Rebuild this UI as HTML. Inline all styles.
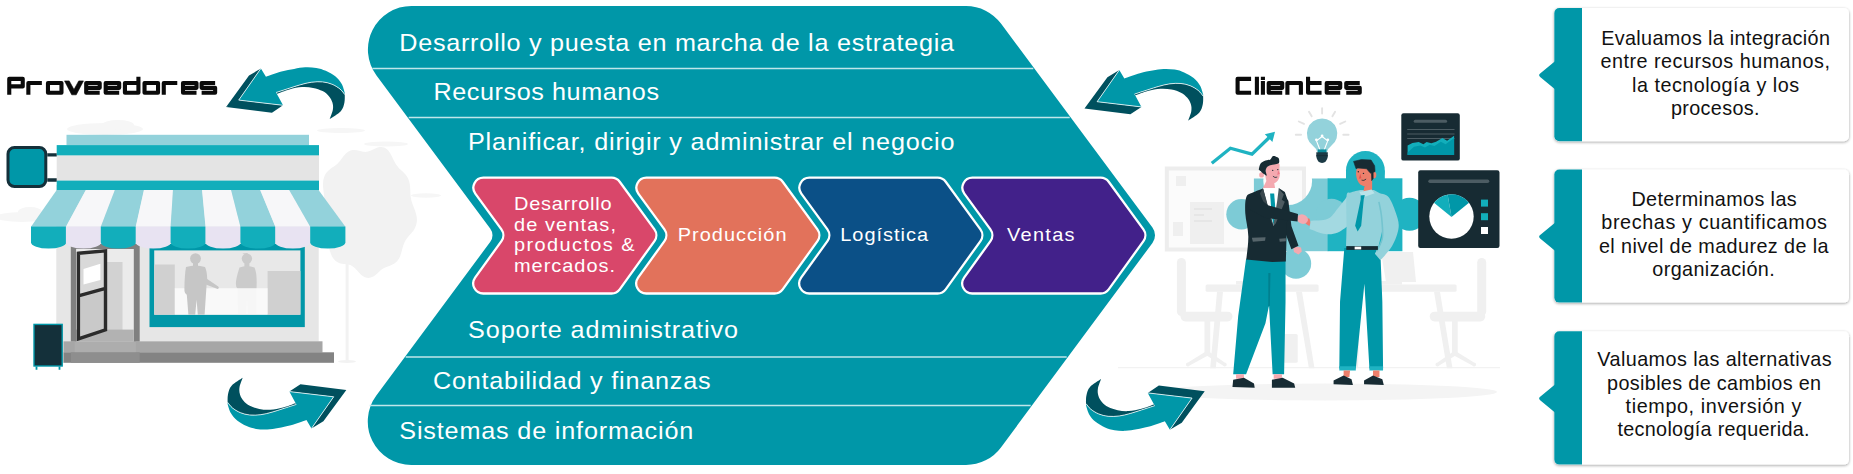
<!DOCTYPE html>
<html><head><meta charset="utf-8"><title>Cadena de valor</title>
<style>
html,body{margin:0;padding:0;background:#fff;}
body{width:1853px;height:474px;overflow:hidden;font-family:"Liberation Sans",sans-serif;}
svg{display:block;}
svg text{font-family:"Liberation Sans",sans-serif;}
</style></head><body>
<svg width="1853" height="474" viewBox="0 0 1853 474">
<!-- p05_store -->
<path d="M415.19 211C415.44 211.97 416.45 214.87 416.7 216.83C416.95 218.79 417 220.85 416.69 222.75C416.39 224.64 415.69 226.51 414.85 228.19C414.01 229.86 412.79 231.37 411.68 232.8C410.57 234.22 409.25 235.44 408.19 236.75C407.13 238.05 406.12 239.25 405.31 240.65C404.51 242.05 403.92 243.52 403.36 245.13C402.8 246.74 402.46 248.56 401.95 250.31C401.44 252.07 401 254 400.32 255.66C399.63 257.32 398.83 258.97 397.85 260.28C396.87 261.59 395.67 262.66 394.44 263.53C393.21 264.4 391.8 264.92 390.47 265.48C389.14 266.05 387.75 266.37 386.46 266.93C385.16 267.49 383.93 268.05 382.71 268.84C381.48 269.63 380.34 270.65 379.13 271.66C377.91 272.66 376.7 273.94 375.4 274.89C374.11 275.84 372.73 276.85 371.33 277.35C369.93 277.84 368.43 278.08 367 277.86C365.57 277.63 364.1 276.9 362.76 276.01C361.41 275.12 360.13 273.71 358.91 272.49C357.7 271.27 356.6 269.79 355.47 268.69C354.33 267.59 353.28 266.58 352.09 265.9C350.91 265.21 349.69 264.87 348.36 264.57C347.04 264.27 345.57 264.32 344.13 264.11C342.68 263.89 341.1 263.8 339.68 263.3C338.26 262.8 336.83 262.12 335.63 261.11C334.43 260.11 333.38 258.73 332.5 257.25C331.61 255.77 330.97 253.95 330.34 252.23C329.71 250.51 329.27 248.65 328.7 246.95C328.13 245.24 327.6 243.6 326.91 242.03C326.22 240.46 325.41 239.02 324.58 237.52C323.75 236.01 322.74 234.58 321.94 232.99C321.13 231.4 320.26 229.74 319.74 227.97C319.22 226.21 318.86 224.29 318.81 222.39C318.76 220.49 319.04 218.48 319.44 216.58C319.84 214.68 320.58 212.79 321.19 211C321.79 209.21 322.57 207.54 323.06 205.85C323.55 204.16 323.96 202.58 324.12 200.87C324.29 199.15 324.18 197.44 324.05 195.58C323.92 193.71 323.52 191.72 323.35 189.7C323.17 187.69 322.9 185.5 323 183.5C323.09 181.49 323.34 179.42 323.91 177.65C324.47 175.88 325.35 174.25 326.36 172.86C327.37 171.47 328.69 170.37 329.94 169.32C331.19 168.27 332.6 167.49 333.85 166.56C335.1 165.64 336.32 164.8 337.43 163.76C338.54 162.72 339.52 161.55 340.52 160.32C341.53 159.08 342.43 157.63 343.47 156.36C344.5 155.1 345.55 153.72 346.73 152.74C347.91 151.75 349.21 150.9 350.56 150.44C351.9 149.98 353.38 149.89 354.8 149.95C356.22 150.01 357.69 150.49 359.08 150.8C360.47 151.12 361.82 151.65 363.14 151.83C364.46 152 365.7 152.08 367 151.86C368.3 151.63 369.58 151.06 370.95 150.49C372.32 149.91 373.76 148.99 375.23 148.4C376.71 147.82 378.3 147.13 379.8 146.98C381.3 146.83 382.86 146.93 384.24 147.5C385.63 148.06 386.94 149.13 388.09 150.37C389.24 151.62 390.21 153.37 391.13 154.99C392.04 156.6 392.77 158.49 393.59 160.09C394.42 161.69 395.16 163.25 396.05 164.59C396.95 165.94 397.91 167.05 398.96 168.15C400.01 169.26 401.23 170.15 402.35 171.24C403.47 172.33 404.71 173.38 405.7 174.67C406.7 175.97 407.64 177.43 408.32 179.03C408.99 180.63 409.44 182.46 409.77 184.27C410.09 186.08 410.14 188.04 410.27 189.89C410.4 191.74 410.35 193.59 410.54 195.36C410.73 197.13 410.96 198.81 411.38 200.51C411.8 202.22 412.45 203.85 413.08 205.6C413.72 207.34 414.84 210.1 415.19 211Z" fill="#F2F2F2"/>
<g fill="#F2F2F2"><rect x="345.6" y="262" width="3" height="99"/><ellipse cx="347" cy="361.5" rx="9" ry="1.5"/></g>
<g fill="#F6F6F6"><ellipse cx="105" cy="129" rx="38" ry="6"/><ellipse cx="118" cy="125" rx="16" ry="5"/><ellipse cx="22" cy="217" rx="26" ry="5"/><ellipse cx="30" cy="212" rx="12" ry="5"/><ellipse cx="341" cy="130.500" rx="24" ry="2.500"/><ellipse cx="386" cy="144" rx="22" ry="2.500"/><ellipse cx="426" cy="195.500" rx="15" ry="2.200"/></g>
<rect x="56.3" y="185" width="262.4" height="156.4" fill="#E6E6E6"/>
<rect x="63.4" y="341.3" width="259.1" height="11.2" fill="#A6A6A6"/>
<rect x="63.4" y="352.3" width="270.6" height="10.5" fill="#838383"/>
<rect x="74.7" y="341.3" width="61.1" height="11.2" fill="#ADADAD"/>
<rect x="70.8" y="352.3" width="68.9" height="10.5" fill="#8E8E8E"/>
<rect x="70.8" y="244" width="68.9" height="97.4" fill="#808080"/>
<rect x="76.1" y="249" width="57.7" height="92.4" fill="#EBEBEB"/>
<rect x="80.6" y="262" width="41.9" height="68" fill="#D2D2D2"/>
<rect x="76.1" y="329.6" width="57.7" height="11.8" fill="#B2B2B2"/>
<path d="M78.4 253.2L105.5 250.9V329.6L78.4 338.6Z" fill="#D9D9D9"/>
<path d="M78.4 296L105.5 288.6V329.6L78.4 338.6Z" fill="#C9C9C9"/>
<path d="M83.5 269L100.4 263.7V279.9L83.5 284.6Z" fill="#fff"/>
<path d="M78.4 253.2L105.5 250.9V329.8L78.4 338.9ZM78.4 295.8L105.5 288.3" fill="none" stroke="#2B2B2B" stroke-width="3.4" stroke-linejoin="miter"/>
<rect x="149.5" y="244" width="155.3" height="83.1" fill="#0097A8"/>
<rect x="154.2" y="250.4" width="146.2" height="64.3" fill="#E8E8E8"/>
<rect x="154.2" y="264.5" width="20.6" height="50.2" fill="#D0D0D0"/>
<rect x="267.6" y="271" width="32.8" height="43.7" fill="#D0D0D0"/>
<g fill="#CBCBCB"><circle cx="246.9" cy="258.600" r="5.200"/><rect x="244.400" y="262" width="5" height="6"/><path d="M242.5 253.5l5-0.5l1 4z"/><path d="M239.5 267.5q7.5-3 15 0q2.8 6 2 21v26h-8.5l-1-16l-1 16h-8l-.5-26q-4-3 2-21z"/></g>
<rect x="174.8" y="288.2" width="92.8" height="26.5" fill="#FBFBFB" fill-opacity=".9"/>
<g fill="#C6C6C6"><circle cx="195.500" cy="258.600" r="5.400"/><rect x="193" y="262" width="5" height="6"/><path d="M186 267q9.5-3 19 0q2 4 2.2 12l11 7.5q1.6 1.6-.6 2.6l-11-4.4l-.8 12l-1.2 18h-6.8l-1.2-15l-1.4 15h-6.8l-1.6-20q-2.6-1.4-2.4-6q.2-14 1.6-21.7z"/></g>
<rect x="66.5" y="134.8" width="242.5" height="10.5" fill="#93D2DB"/>
<rect x="56.7" y="145.1" width="262.3" height="10.6" fill="#12AEBB"/>
<rect x="56.7" y="155.5" width="262.3" height="25.3" fill="#E4E4E4"/>
<rect x="56.7" y="180.6" width="262.3" height="9.6" fill="#12AEBB"/>
<path d="M47.3 154.9H56.7M47.3 180H56.7" stroke="#14303A" stroke-width="3.4"/>
<rect x="8" y="147.5" width="37.8" height="39" rx="6.5" fill="#0097A8" stroke="#14303A" stroke-width="3"/>
<path d="M56.7 190.0H86.06L66.2 226.70000000000002H31Z" fill="#93D2DB"/>
<path d="M31 226.4H66.2V242.2A17.6 6.4 0 0 1 31 242.2Z" fill="#12AEBB"/>
<path d="M85.76 190.0H115.12L101.1 226.70000000000002H65.9Z" fill="#F7F7F9"/>
<path d="M65.9 226.4H101.1V242.2A17.6 6.4 0 0 1 65.9 242.2Z" fill="#E8E3F2"/>
<path d="M114.82 190.0H144.18L136 226.70000000000002H100.8Z" fill="#93D2DB"/>
<path d="M100.8 226.4H136V242.2A17.6 6.4 0 0 1 100.8 242.2Z" fill="#12AEBB"/>
<path d="M143.88 190.0H173.24L170.9 226.70000000000002H135.7Z" fill="#F7F7F9"/>
<path d="M135.7 226.4H170.9V242.2A17.6 6.4 0 0 1 135.7 242.2Z" fill="#E8E3F2"/>
<path d="M172.94 190.0H202.3L205.8 226.70000000000002H170.6Z" fill="#93D2DB"/>
<path d="M170.6 226.4H205.8V242.2A17.6 6.4 0 0 1 170.6 242.2Z" fill="#12AEBB"/>
<path d="M202 190.0H231.36L240.7 226.70000000000002H205.5Z" fill="#F7F7F9"/>
<path d="M205.5 226.4H240.7V242.2A17.6 6.4 0 0 1 205.5 242.2Z" fill="#E8E3F2"/>
<path d="M231.06 190.0H260.42L275.6 226.70000000000002H240.4Z" fill="#93D2DB"/>
<path d="M240.4 226.4H275.6V242.2A17.6 6.4 0 0 1 240.4 242.2Z" fill="#12AEBB"/>
<path d="M260.12 190.0H289.48L310.5 226.70000000000002H275.3Z" fill="#F7F7F9"/>
<path d="M275.3 226.4H310.5V242.2A17.6 6.4 0 0 1 275.3 242.2Z" fill="#E8E3F2"/>
<path d="M289.18 190.0H318.54L345.4 226.70000000000002H310.2Z" fill="#93D2DB"/>
<path d="M310.2 226.4H345.4V242.2A17.6 6.4 0 0 1 310.2 242.2Z" fill="#12AEBB"/>
<rect x="34" y="324.4" width="28.2" height="41.6" fill="#14303A" stroke="#0097A8" stroke-width="1.4"/>
<path d="M36.5 366.5v3.2M59.5 366.5v3.2" stroke="#0097A8" stroke-width="1.8"/>
<!-- p06_people -->
<ellipse cx="1325" cy="392" rx="172" ry="8.5" fill="#F4F4F4"/>
<path d="M1118 367.6H1500" stroke="#F2F2F2" stroke-width="1.2"/>
<rect x="1166.8" y="168.5" width="137.2" height="81" fill="#FBFBFB" stroke="#EDEDED" stroke-width="4"/>
<g fill="#EFEFEF"><rect x="1176" y="176" width="10" height="10"/><rect x="1173" y="222" width="10" height="14"/><rect x="1190" y="202" width="34" height="42"/></g>
<g stroke="#E6E6E6" stroke-width="2.2"><path d="M1194 209h18M1194 215h10M1194 221h18"/></g>
<g fill="#F0F0F0"><rect x="1205.6" y="284.5" width="113" height="7.2" rx="1.5"/><path d="M1217 291.7h6l-7.2 76.6h-5.6zM1296 291.7h6l12.5 76.6h-5.6z"/><rect x="1379.5" y="284.5" width="77.1" height="7.2" rx="1.5"/><path d="M1434 291.7h6l12.5 76.6h-5.6zM1356 291.7h5l-3 76.6h-5z"/><rect x="1283.4" y="334" width="14.3" height="28.7" rx="1.5"/><path d="M1381 252h32l3 30h-30z"/><rect x="1376" y="281" width="26" height="3.5"/><rect x="1236" y="281" width="22" height="3.5"/><rect x="1176.9" y="258" width="9" height="58" rx="4.5"/><rect x="1180.5" y="311.7" width="52" height="9.7" rx="4.8"/><rect x="1204.5" y="321" width="5.7" height="35"/><path d="M1205 352l-17 10.5a2 2 0 1 0 1.6 3l17.5-9.5zM1209.6 352l15 10.5a2 2 0 1 1 -1.6 3l-15.6-9.5z"/><rect x="1477.2" y="258" width="9" height="58" rx="4.5"/><rect x="1429.7" y="311.7" width="55.5" height="9.7" rx="4.8"/><rect x="1452" y="321" width="5.7" height="35"/><path d="M1452.6 352l-15 10.5a2 2 0 1 0 1.6 3l15.6-9.5zM1457 352l17 10.5a2 2 0 1 1 -1.6 3l-17.5-9.5z"/></g>
<mask id="sk" maskUnits="userSpaceOnUse" x="1200" y="150" width="150" height="140"><rect x="1200" y="150" width="150" height="140" fill="#fff"/><circle cx="1287.7" cy="180.7" r="24.4" fill="#000"/></mask>
<g fill="#7DCBD6" mask="url(#sk)"><rect x="1253.9" y="178.5" width="74.5" height="72.7"/><circle cx="1241.5" cy="214.3" r="15.2"/><rect x="1248" y="206" width="8" height="16.5"/><circle cx="1296" cy="263.5" r="15.2"/><rect x="1288" y="249" width="16" height="6"/></g>
<g fill="#1FB3C2"><rect x="1327.6" y="178.3" width="74.8" height="72.9"/><circle cx="1365.400" cy="170.500" r="19.400"/><rect x="1346" y="170.500" width="38.800" height="8.500"/><circle cx="1409.5" cy="214.3" r="16.5"/><rect x="1400" y="205" width="6" height="18"/></g>
<circle cx="1331.5" cy="214.3" r="15.6" fill="#7DCBD6"/>
<path d="M1211.8 163.2L1230.4 148.2L1252 154.1L1269.5 137.2" fill="none" stroke="#1FB3C2" stroke-width="3.3" stroke-linejoin="miter"/>
<path d="M1275 131.800l-10.200 2.400l7.600 7.800z" fill="#1FB3C2"/>
<g stroke="#E3E3E3" stroke-width="1.9" stroke-linecap="round"><path d="M1322.100 108.300v5.200M1309 111.700l2.700 4.600M1335.100 111.700l-2.700 4.600M1298.800 121.500l5.200 2.400M1345.300 121.500l-5.200 2.400M1295.800 134.700h5.300M1348.600 134.700h-5.300"/></g>
<path d="M1322.100 118.500a15.200 15.200 0 0 1 9.200 27.300q-3.600 2.800-4.300 6.200h-9.800q-.700-3.400-4.300-6.200a15.200 15.200 0 0 1 9.200-27.300z" fill="#93D2DB"/>
<path d="M1320.200 150.500l-3.700-9.600l5.600-4.400l5.600 4.400l-3.700 9.600" fill="none" stroke="#fff" stroke-width="1.100" stroke-linejoin="round" stroke-linecap="round"/><g fill="#fff"><circle cx="1316.400" cy="139.800" r="1.400"/><circle cx="1327.800" cy="139.800" r="1.400"/><circle cx="1322.100" cy="136" r="1.400"/></g>
<path d="M1317.800 149.400h8.600v3.600h-8.600z" fill="#0B8C9C"/><path d="M1316.300 152.200h11.500v4.600q-1.200 6.200-5.750 6.200t-5.750-6.200z" fill="#1B3A45"/><path d="M1316.300 155.600h11.500" stroke="#172B33" stroke-width=".8"/>
<rect x="1401.3" y="113.3" width="58.5" height="47.3" rx="2.2" fill="#172B33"/>
<path d="M1415.2 121.3H1445.6" stroke="#4C5C63" stroke-width="3" stroke-linecap="round"/>
<path d="M1407.2 129.5h47.3M1407.2 134h47.3M1407.2 138.5h47.3" stroke="#4C5C63" stroke-width="1"/>
<path d="M1407.6 154.9L1407.6 145.5L1412.4 142.9L1418.7 142.0L1423.4 144.2L1426.6 142.0L1431.3 143.2L1436.1 141.7L1442.4 137.9L1447.1 140.7L1454.1 135.7L1454.1 154.9Z" fill="#12AEBB"/>
<path d="M1407.6 154.9L1407.6 152.4L1414.0 146.7L1420.3 145.5L1425.0 147.4L1429.8 144.8L1434.5 146.1L1440.8 141.7L1445.6 144.2L1454.1 137.9L1454.1 154.9Z" fill="#0097A8"/>
<rect x="1418.2" y="170.3" width="81.3" height="77.6" rx="2.2" fill="#172B33"/>
<path d="M1430 181.3H1487.6" stroke="#4C5C63" stroke-width="3.4" stroke-linecap="round"/>
<circle cx="1451.5" cy="216.5" r="22.2" fill="#fff"/>
<path d="M1451.5 217L1434.01 202.83A22.2 22.2 0 0 1 1447.65 194.64Z" fill="#12AEBB"/>
<path d="M1451.5 217L1447.65 194.64A22.2 22.2 0 0 1 1468.99 202.83Z" fill="#0097A8"/>
<rect x="1481" y="199.6" width="7" height="7" fill="#12AEBB"/><rect x="1481" y="213.2" width="7" height="7" fill="#12AEBB"/><rect x="1481" y="227" width="7" height="7" fill="#fff"/>
<path d="M1246.09 258.68L1285.53 258.68L1285.53 301.71L1284.1 374.14L1272.62 374.14L1269.04 305.3L1265.45 323.22L1246.09 374.14L1233.18 374.14L1238.2 316.05Z" fill="#0097A8"/>
<path d="M1268.32 273.03L1270.47 273.03L1269.76 305.3L1268.32 307.09Z" fill="#00808F"/>
<path d="M1236.05 374.14L1243.94 374.14L1243.94 378.8L1236.05 378.8ZM1273.7 374.14L1281.95 374.14L1281.95 378.8L1273.7 378.8Z" fill="#F4A9B0"/>
<path d="M1233.18 379.87L1243.94 377.72L1253.98 383.46L1254.7 387.76L1232.47 387.05ZM1271.91 379.87L1282.66 377.72L1294.14 383.46L1295.21 387.76L1271.91 387.76Z" fill="#172B33"/>
<path d="M1292.93 245.82L1301.05 247.59L1301.81 251.39L1298.51 254.44L1293.95 251.9Z" fill="#F4A9B0"/>
<path d="M1283.81 195.63L1288.37 200.7L1291.41 226.05L1298.51 245.82L1291.41 249.37L1284.57 231.12Z" fill="#172B33"/>
<path d="M1266.62 180.58L1274 181.64L1275.58 191.13L1261.87 190.07Z" fill="#F4A9B0"/>
<path d="M1266.09 166.87C1266.97 166.52 1269.22 165.33 1271.36 164.76C1273.51 164.2 1277.62 162.79 1278.96 163.5C1280.29 164.2 1279.22 167.33 1279.38 168.98C1279.54 170.63 1279.92 171.97 1279.9 173.41C1279.89 174.85 1279.82 176.22 1279.27 177.63C1278.73 179.03 1277.74 180.79 1276.64 181.85C1275.53 182.9 1273.82 183.67 1272.63 183.96C1271.43 184.24 1270.45 183.96 1269.46 183.53C1268.48 183.11 1267.39 182.62 1266.72 181.42C1266.06 180.23 1265.63 178.09 1265.46 176.36C1265.28 174.64 1265.56 172.67 1265.67 171.09C1265.77 169.51 1266.02 167.58 1266.09 166.87Z" fill="#F4A9B0"/>
<ellipse cx="1261.56" cy="174.89" rx="2.400" ry="2.700" fill="#F4A9B0"/>
<path d="M1278.11 170.25L1279.8 173.83L1277.27 174.89Z" fill="#F07A8A"/>
<path d="M1258.71 169.61C1259.03 168.59 1259.46 165.01 1260.61 163.5C1261.75 161.99 1263.95 161.21 1265.56 160.55C1267.18 159.88 1269.06 160.23 1270.31 159.49C1271.56 158.75 1272 156.54 1273.05 156.12C1274.1 155.69 1275.67 156.57 1276.64 156.96C1277.6 157.35 1278.45 157.49 1278.85 158.44C1279.25 159.39 1279.43 161.74 1279.06 162.65C1278.69 163.57 1277.92 163.53 1276.64 163.92C1275.35 164.31 1272.91 164.48 1271.36 164.97C1269.82 165.47 1268.3 165.92 1267.36 166.87C1266.41 167.82 1265.77 169.23 1265.67 170.67C1265.56 172.11 1266.93 174.92 1266.72 175.52C1266.51 176.12 1265.25 174.82 1264.4 174.25C1263.56 173.69 1262.61 172.92 1261.66 172.14C1260.71 171.37 1259.2 170.04 1258.71 169.61Z" fill="#172B33"/>
<circle cx="1272.73" cy="170.35" r=".700" fill="#172B33"/><circle cx="1277.8" cy="169.61" r=".700" fill="#172B33"/>
<path d="M1273.26 176.36C1273.54 176.54 1274.35 177.29 1274.95 177.42C1275.55 177.54 1276.53 177.15 1276.85 177.1" fill="none" stroke="#172B33" stroke-width=".8" stroke-linecap="round"/>
<path d="M1263.02 188.53C1261.33 189.21 1255.67 191.15 1252.88 192.59C1250.1 194.02 1247.56 193.68 1246.29 197.15C1245.03 200.61 1244.94 206.87 1245.28 213.37C1245.62 219.88 1248.15 228.5 1248.32 236.19C1248.49 243.87 1246.63 255.62 1246.29 259.51L1272.15 262.04L1285.84 261.53L1286.85 226.05L1287.86 200.7L1284.82 192.08L1278.74 188.02Z" fill="#172B33"/>
<path d="M1263.02 188.02L1278.74 188.02L1280.26 198.16L1273.67 226.05L1268.09 208.3Z" fill="#fff"/>
<path d="M1270.12 193.6L1274.18 193.6L1275.7 213.37L1273.42 225.54L1271.39 213.37Z" fill="#0097A8"/>
<path d="M1278.74 188.53L1283.81 194.61L1281.78 199.68L1284.82 201.71L1275.7 223.51L1273.16 226.05L1277.22 200.7Z" fill="#4D5B61"/>
<path d="M1263.02 188.53L1259.98 193.6L1273.16 226.05L1266.57 200.7Z" fill="#3A484E"/>
<path d="M1251.87 237.71L1265.56 237.2L1265.05 240.75L1252.88 241.76ZM1279.25 238.72L1285.84 238.21L1285.84 241.25L1279.75 241.76Z" fill="#56656B"/>
<path d="M1305.300 217.500l4.200 1.200l1.200 4.200l-1.400 3.200l-3.600-2.400z" fill="#F0796D"/>
<ellipse cx="1302.500" cy="219.100" rx="5.600" ry="4.700" transform="rotate(18 1302.500 219.100)" fill="#F4A9B0"/>
<path d="M1246.29 198.16L1252.88 193.6L1268.09 205.26L1298 213.88L1297.5 221.48L1265.56 217.93L1248.32 208.81Z" fill="#172B33"/>
<path d="M1344.33 247.93L1380.19 247.93L1382.34 301.71L1383.06 368.4L1369.43 368.4L1364.41 283.78L1355.81 368.4L1339.32 368.4L1340.03 301.71Z" fill="#0097A8"/>
<path d="M1339.32 366.25L1355.81 366.25L1355.81 370.55L1339.32 370.55ZM1369.43 366.25L1383.06 366.25L1383.06 370.55L1369.43 370.55Z" fill="#1FB3C2"/>
<path d="M1343.62 370.55L1350.07 370.55L1349.35 377.01L1343.62 377.01ZM1373.02 370.55L1379.47 370.55L1379.47 377.01L1373.02 377.01Z" fill="#EC7F6B"/>
<path d="M1333.58 380.59L1343.62 375.57L1351.51 379.16L1352.94 384.89L1333.58 384.18ZM1364.06 380.59L1373.02 375.57L1382.34 379.16L1383.78 384.89L1364.06 384.18Z" fill="#172B33"/>
<path d="M1349.57 193.5C1347.63 195.95 1341.56 203.95 1337.94 208.17C1334.31 212.38 1332.37 216.68 1327.82 218.79C1323.27 220.9 1313.49 220.48 1310.62 220.81L1309.61 228.91C1312.22 229.75 1320.57 233.38 1325.29 233.97C1330.01 234.56 1333.89 233.97 1337.94 232.45C1341.98 230.93 1347.63 226.13 1349.57 224.86Z" fill="#A3D9E1"/>
<path d="M1360.19 189.96C1358.59 190.38 1352.86 191.48 1350.58 192.49C1348.31 193.5 1347.21 190.47 1346.54 196.03C1345.86 201.59 1346.62 217.44 1346.54 225.87C1346.45 234.3 1346.11 243.15 1346.03 246.61L1378.4 246.61L1383.46 225.87L1388.52 198.05L1373.85 189.96Z" fill="#93D2DB"/>
<path d="M1380.42 193.5C1381.77 194.09 1385.99 193.92 1388.52 197.04C1391.05 200.16 1393.91 207.16 1395.6 212.22C1397.29 217.27 1399.22 221.74 1398.63 227.39C1398.04 233.04 1395.09 240.63 1392.06 246.11C1389.02 251.58 1382.36 257.91 1380.42 260.27L1374.86 253.69C1376.13 251.16 1381.35 244.84 1382.45 238.52C1383.54 232.2 1382.11 222.08 1381.44 215.76C1380.76 209.43 1378.91 203.11 1378.4 200.58Z" fill="#93D2DB"/>
<path d="M1378.91 201.85C1379.33 204.16 1380.85 209.85 1381.44 215.76C1382.03 221.66 1383.21 231.35 1382.45 237.25C1381.69 243.15 1377.81 248.85 1376.88 251.16" fill="none" stroke="#74C4CF" stroke-width="1.6"/>
<path d="M1346.28 246.11L1377.9 246.11L1377.9 249.9L1346.28 249.9Z" fill="#172B33"/>
<path d="M1354.63 246.61L1361.2 246.61L1361.2 249.39L1354.63 249.39Z" fill="#fff"/>
<path d="M1365.05 183.74L1372.12 180.58L1372.12 191.34L1363.26 192.18Z" fill="#EC7F6B"/>
<path d="M1356.72 168.56C1356.62 169.54 1355.95 172.46 1356.09 174.46C1356.23 176.47 1356.86 178.93 1357.57 180.58C1358.27 182.23 1359.15 183.48 1360.31 184.38C1361.47 185.27 1363.12 185.89 1364.53 185.96C1365.93 186.03 1367.51 185.66 1368.74 184.8C1369.97 183.94 1371.31 182.81 1371.91 180.79C1372.51 178.77 1372.68 174.29 1372.33 172.67C1371.98 171.06 1370.75 171.78 1369.8 171.09C1368.85 170.4 1368.04 169.09 1366.64 168.56C1365.23 168.03 1363.02 167.93 1361.36 167.93C1359.71 167.93 1357.5 168.45 1356.72 168.56Z" fill="#EC7F6B"/>
<ellipse cx="1374.02" cy="175.1" rx="2.300" ry="3.300" fill="#EC7F6B"/>
<path d="M1360.31 173.83L1361.36 178.26L1358.83 178.68Z" fill="#E4524D"/>
<path d="M1353.56 161.39L1361.36 159.6L1371.06 160.02L1374.65 165.82L1375.07 171.51L1373.17 172.57L1373.17 178.68L1371.7 180.58L1371.49 173.83L1369.8 172.57L1366.64 168.77L1357.78 167.93L1356.09 168.77Z" fill="#172B33" stroke="#172B33" stroke-width=".6" stroke-linejoin="round"/>
<circle cx="1358.3" cy="171.72" r=".700" fill="#172B33"/><circle cx="1363.47" cy="173.41" r=".700" fill="#172B33"/>
<path d="M1362 180.16C1362.31 180.19 1363.26 180.53 1363.89 180.37C1364.53 180.21 1365.48 179.4 1365.79 179.21" fill="none" stroke="#172B33" stroke-width=".8" stroke-linecap="round"/>
<path d="M1359.25 191.76L1363.26 191.34L1365.58 196.4L1361.36 195.56ZM1363.26 191.34L1371.49 189.44L1374.65 193.24L1365.58 196.4Z" fill="#B9E3E9"/>
<path d="M1360.7 195.52L1364.74 195.02L1363.73 199.57L1361.2 225.87L1357.66 231.44L1355.13 225.87L1360.7 199.57Z" fill="#0097A8"/>
<!-- p10_center -->
<path d="M376.50 75.44A43.50 43.50 0 0 1 411.42 6.00L966.03 6.00A43.50 43.50 0 0 1 1000.95 23.56L1152.45 227.46A13.00 13.00 0 0 1 1152.46 242.95L1000.95 447.40A43.50 43.50 0 0 1 966.00 465.00L411.28 465.00A43.50 43.50 0 0 1 376.33 395.60L490.34 241.76A11.00 11.00 0 0 0 490.33 228.65Z" fill="#0097A8"/>
<line x1="372.3" y1="68.5" x2="1033.3" y2="68.5" stroke="#BFE6EA" stroke-width="1.4"/>
<line x1="408.7" y1="117.5" x2="1069.7" y2="117.5" stroke="#BFE6EA" stroke-width="1.4"/>
<line x1="405.7" y1="357.0" x2="1066.7" y2="357.0" stroke="#BFE6EA" stroke-width="1.4"/>
<line x1="369.7" y1="405.5" x2="1030.7" y2="405.5" stroke="#BFE6EA" stroke-width="1.4"/>
<text transform="translate(399.3 50.5) scale(1.05 1)" font-size="24" fill="#fff" textLength="528.3" lengthAdjust="spacing">Desarrollo y puesta en marcha de la estrategia</text>
<text transform="translate(433.5 100.0) scale(1.05 1)" font-size="24" fill="#fff" textLength="214.8" lengthAdjust="spacing">Recursos humanos</text>
<text transform="translate(468.0 149.7) scale(1.05 1)" font-size="24" fill="#fff" textLength="463.3" lengthAdjust="spacing">Planificar, dirigir y administrar el negocio</text>
<text transform="translate(468.0 338.4) scale(1.05 1)" font-size="24" fill="#fff" textLength="257.1" lengthAdjust="spacing">Soporte administrativo</text>
<text transform="translate(433.0 389.1) scale(1.05 1)" font-size="24" fill="#fff" textLength="264.3" lengthAdjust="spacing">Contabilidad y finanzas</text>
<text transform="translate(399.3 439.0) scale(1.05 1)" font-size="24" fill="#fff" textLength="280.0" lengthAdjust="spacing">Sistemas de información</text>
<path d="M475.31 193.60A10.00 10.00 0 0 1 483.39 177.70L611.62 177.70A10.00 10.00 0 0 1 619.70 181.80L654.42 229.34A10.00 10.00 0 0 1 654.46 241.09L619.69 289.35A10.00 10.00 0 0 1 611.58 293.50L483.23 293.50A10.00 10.00 0 0 1 475.12 277.65L501.46 241.09A10.00 10.00 0 0 0 501.42 229.34Z" fill="#D9476A" stroke="#fff" stroke-width="2.3"/>
<path d="M638.31 193.60A10.00 10.00 0 0 1 646.39 177.70L774.62 177.70A10.00 10.00 0 0 1 782.70 181.80L817.42 229.34A10.00 10.00 0 0 1 817.46 241.09L782.69 289.35A10.00 10.00 0 0 1 774.58 293.50L646.23 293.50A10.00 10.00 0 0 1 638.12 277.65L664.46 241.09A10.00 10.00 0 0 0 664.42 229.34Z" fill="#E2725B" stroke="#fff" stroke-width="2.3"/>
<path d="M801.31 193.60A10.00 10.00 0 0 1 809.39 177.70L937.62 177.70A10.00 10.00 0 0 1 945.70 181.80L980.42 229.34A10.00 10.00 0 0 1 980.46 241.09L945.69 289.35A10.00 10.00 0 0 1 937.58 293.50L809.23 293.50A10.00 10.00 0 0 1 801.12 277.65L827.46 241.09A10.00 10.00 0 0 0 827.42 229.34Z" fill="#0B5087" stroke="#fff" stroke-width="2.3"/>
<path d="M964.31 193.60A10.00 10.00 0 0 1 972.39 177.70L1100.62 177.70A10.00 10.00 0 0 1 1108.70 181.80L1143.42 229.34A10.00 10.00 0 0 1 1143.46 241.09L1108.69 289.35A10.00 10.00 0 0 1 1100.58 293.50L972.23 293.50A10.00 10.00 0 0 1 964.12 277.65L990.46 241.09A10.00 10.00 0 0 0 990.42 229.34Z" fill="#42218A" stroke="#fff" stroke-width="2.3"/>
<text transform="translate(514.0 209.9) scale(1.05 1)" font-size="19" fill="#fff" textLength="92.9" lengthAdjust="spacing">Desarrollo</text>
<text transform="translate(514.0 230.6) scale(1.05 1)" font-size="19" fill="#fff" textLength="97.1" lengthAdjust="spacing">de ventas,</text>
<text transform="translate(514.0 251.3) scale(1.05 1)" font-size="19" fill="#fff" textLength="114.8" lengthAdjust="spacing">productos &amp;</text>
<text transform="translate(514.0 272.0) scale(1.05 1)" font-size="19" fill="#fff" textLength="96.2" lengthAdjust="spacing">mercados.</text>
<text transform="translate(677.8 240.5) scale(1.05 1)" font-size="19" fill="#fff" textLength="103.5" lengthAdjust="spacing">Producción</text>
<text transform="translate(840.3 240.5) scale(1.05 1)" font-size="19" fill="#fff" textLength="83.5" lengthAdjust="spacing">Logística</text>
<text transform="translate(1007.0 240.5) scale(1.05 1)" font-size="19" fill="#fff" textLength="64.3" lengthAdjust="spacing">Ventas</text>
<!-- p20_headings -->
<path d="M64.54 80.9L69.24 80.9L73.99 89.6L78.74 80.9L83.44 80.9L76.24 94.8L71.74 94.8Z" fill="#0a0a0a" stroke="#0a0a0a" stroke-width=".6" stroke-linejoin="round"/><path d="M9.25 94.8L9.25 78.85L22.75 78.85L22.75 86.4L9.25 86.4M28.36 94.8L28.36 82.95L41.86 82.95M47.97 82.95L61.47 82.95L61.47 92.75L47.97 92.75ZM99.7 92.75L86.2 92.75L86.2 82.95L99.7 82.95L99.7 87.85L86.2 87.85M119.19 92.75L105.69 92.75L105.69 82.95L119.19 82.95L119.19 87.85L105.69 87.85M138.42 76.8L138.42 92.75L124.92 92.75L124.92 82.95L138.42 82.95M144.53 82.95L158.03 82.95L158.03 92.75L144.53 92.75ZM163.77 94.8L163.77 82.95L177.27 82.95M196.51 92.75L183.01 92.75L183.01 82.95L196.51 82.95L196.51 87.85L183.01 87.85M215.13 82.95L201.63 82.95L201.63 87.85L215.13 87.85L215.13 92.75L201.63 92.75" fill="none" stroke="#0a0a0a" stroke-width="4.1" stroke-linejoin="round" stroke-linecap="butt"/>
<path d="M1251.1 78.85L1237.6 78.85L1237.6 92.75L1251.1 92.75M1256.9 76.8L1256.9 94.8M1262.91 76.8L1262.91 80M1262.91 80.9L1262.91 94.8M1282.22 92.75L1268.72 92.75L1268.72 82.95L1282.22 82.95L1282.22 87.85L1268.72 87.85M1287.39 94.8L1287.39 82.95L1300.89 82.95L1300.89 94.8M1308.06 76.8L1308.06 92.75L1321.56 92.75M1308.06 82.95L1321.56 82.95M1340.23 92.75L1326.73 92.75L1326.73 82.95L1340.23 82.95L1340.23 87.85L1326.73 87.85M1359.75 82.95L1346.25 82.95L1346.25 87.85L1359.75 87.85L1359.75 92.75L1346.25 92.75" fill="none" stroke="#0a0a0a" stroke-width="4.1" stroke-linejoin="round" stroke-linecap="butt"/>
<!-- p30_arrows -->
<g transform="translate(0 0)"><path d="M260.89 68.45L249.02 75.57L226.08 106.9L238.73 100.09ZM238.73 100.09L226.08 106.9L271.96 112.75L283.04 105.32Z" fill="#00505E"/><path d="M276.08 92.5C278.29 91.79 285.31 89.52 289.37 88.23C293.43 86.94 296.75 85.75 300.44 84.75C304.14 83.74 307.83 82.69 311.52 82.22C315.21 81.74 319.17 81.56 322.59 81.9C326.02 82.24 329.19 83.09 332.09 84.27C334.99 85.46 337.89 87.3 340 89.02C342.11 90.73 343.96 93.63 344.75 94.56L344.75 92.66C344.69 94.29 345.09 99.38 344.43 102.47C343.77 105.55 343.24 108.4 340.79 111.17C338.34 113.94 331.56 117.76 329.72 119.08L329.72 119.08C330.24 117.5 332.43 112.36 332.88 109.59C333.33 106.82 333.06 104.71 332.41 102.47C331.75 100.23 330.56 98.04 328.92 96.14C327.29 94.24 325.23 92.45 322.59 91.08C319.96 89.7 316.53 88.57 313.1 87.91C309.67 87.25 305.98 86.86 302.03 87.12C298.07 87.38 293.53 88.39 289.37 89.49C285.2 90.6 279.08 93.05 277.03 93.77Z" fill="#00505E"/><path d="M260.89 68.45L238.73 100.09L283.04 105.32L276.08 92.5L276.08 92.5C278.29 91.79 285.31 89.52 289.37 88.23C293.43 86.94 296.75 85.75 300.44 84.75C304.14 83.74 307.83 82.69 311.52 82.22C315.21 81.74 319.17 81.56 322.59 81.9C326.02 82.24 329.19 83.09 332.09 84.27C334.99 85.46 337.89 87.3 340 89.02C342.11 90.73 343.96 93.63 344.75 94.56L344.75 92.66C344.22 91.18 343.16 86.51 341.58 83.8C340 81.08 337.89 78.52 335.25 76.36C332.62 74.2 328.92 72.22 325.76 70.82C322.59 69.43 319.69 68.55 316.27 67.97C312.84 67.39 308.88 67.18 305.19 67.34C301.5 67.5 298.07 68.21 294.11 68.92C290.16 69.64 286.15 70.3 281.46 71.61C276.76 72.93 268.53 75.97 265.95 76.84Z" fill="#0097A8"/><path d="M276.08 92.5C278.29 91.79 285.31 89.52 289.37 88.23C293.43 86.94 296.75 85.75 300.44 84.75C304.14 83.74 307.83 82.69 311.52 82.22C315.21 81.74 319.17 81.56 322.59 81.9C326.02 82.24 329.19 83.09 332.09 84.27C334.99 85.46 337.89 87.3 340 89.02C342.11 90.73 343.96 93.63 344.75 94.56" fill="none" stroke="#fff" stroke-opacity=".85" stroke-width=".9"/><path d="M260.89 68.45L238.73 100.09L283.04 105.32" fill="none" stroke="#fff" stroke-opacity=".85" stroke-width=".9"/></g>
<g transform="rotate(180 286.2 248.45)"><path d="M260.89 68.45L249.02 75.57L226.08 106.9L238.73 100.09ZM238.73 100.09L226.08 106.9L271.96 112.75L283.04 105.32Z" fill="#00505E"/><path d="M276.08 92.5C278.29 91.79 285.31 89.52 289.37 88.23C293.43 86.94 296.75 85.75 300.44 84.75C304.14 83.74 307.83 82.69 311.52 82.22C315.21 81.74 319.17 81.56 322.59 81.9C326.02 82.24 329.19 83.09 332.09 84.27C334.99 85.46 337.89 87.3 340 89.02C342.11 90.73 343.96 93.63 344.75 94.56L344.75 92.66C344.69 94.29 345.09 99.38 344.43 102.47C343.77 105.55 343.24 108.4 340.79 111.17C338.34 113.94 331.56 117.76 329.72 119.08L329.72 119.08C330.24 117.5 332.43 112.36 332.88 109.59C333.33 106.82 333.06 104.71 332.41 102.47C331.75 100.23 330.56 98.04 328.92 96.14C327.29 94.24 325.23 92.45 322.59 91.08C319.96 89.7 316.53 88.57 313.1 87.91C309.67 87.25 305.98 86.86 302.03 87.12C298.07 87.38 293.53 88.39 289.37 89.49C285.2 90.6 279.08 93.05 277.03 93.77Z" fill="#00505E"/><path d="M260.89 68.45L238.73 100.09L283.04 105.32L276.08 92.5L276.08 92.5C278.29 91.79 285.31 89.52 289.37 88.23C293.43 86.94 296.75 85.75 300.44 84.75C304.14 83.74 307.83 82.69 311.52 82.22C315.21 81.74 319.17 81.56 322.59 81.9C326.02 82.24 329.19 83.09 332.09 84.27C334.99 85.46 337.89 87.3 340 89.02C342.11 90.73 343.96 93.63 344.75 94.56L344.75 92.66C344.22 91.18 343.16 86.51 341.58 83.8C340 81.08 337.89 78.52 335.25 76.36C332.62 74.2 328.92 72.22 325.76 70.82C322.59 69.43 319.69 68.55 316.27 67.97C312.84 67.39 308.88 67.18 305.19 67.34C301.5 67.5 298.07 68.21 294.11 68.92C290.16 69.64 286.15 70.3 281.46 71.61C276.76 72.93 268.53 75.97 265.95 76.84Z" fill="#0097A8"/><path d="M276.08 92.5C278.29 91.79 285.31 89.52 289.37 88.23C293.43 86.94 296.75 85.75 300.44 84.75C304.14 83.74 307.83 82.69 311.52 82.22C315.21 81.74 319.17 81.56 322.59 81.9C326.02 82.24 329.19 83.09 332.09 84.27C334.99 85.46 337.89 87.3 340 89.02C342.11 90.73 343.96 93.63 344.75 94.56" fill="none" stroke="#fff" stroke-opacity=".85" stroke-width=".9"/><path d="M260.89 68.45L238.73 100.09L283.04 105.32" fill="none" stroke="#fff" stroke-opacity=".85" stroke-width=".9"/></g>
<g transform="translate(858.4 1.6)"><path d="M260.89 68.45L249.02 75.57L226.08 106.9L238.73 100.09ZM238.73 100.09L226.08 106.9L271.96 112.75L283.04 105.32Z" fill="#00505E"/><path d="M276.08 92.5C278.29 91.79 285.31 89.52 289.37 88.23C293.43 86.94 296.75 85.75 300.44 84.75C304.14 83.74 307.83 82.69 311.52 82.22C315.21 81.74 319.17 81.56 322.59 81.9C326.02 82.24 329.19 83.09 332.09 84.27C334.99 85.46 337.89 87.3 340 89.02C342.11 90.73 343.96 93.63 344.75 94.56L344.75 92.66C344.69 94.29 345.09 99.38 344.43 102.47C343.77 105.55 343.24 108.4 340.79 111.17C338.34 113.94 331.56 117.76 329.72 119.08L329.72 119.08C330.24 117.5 332.43 112.36 332.88 109.59C333.33 106.82 333.06 104.71 332.41 102.47C331.75 100.23 330.56 98.04 328.92 96.14C327.29 94.24 325.23 92.45 322.59 91.08C319.96 89.7 316.53 88.57 313.1 87.91C309.67 87.25 305.98 86.86 302.03 87.12C298.07 87.38 293.53 88.39 289.37 89.49C285.2 90.6 279.08 93.05 277.03 93.77Z" fill="#00505E"/><path d="M260.89 68.45L238.73 100.09L283.04 105.32L276.08 92.5L276.08 92.5C278.29 91.79 285.31 89.52 289.37 88.23C293.43 86.94 296.75 85.75 300.44 84.75C304.14 83.74 307.83 82.69 311.52 82.22C315.21 81.74 319.17 81.56 322.59 81.9C326.02 82.24 329.19 83.09 332.09 84.27C334.99 85.46 337.89 87.3 340 89.02C342.11 90.73 343.96 93.63 344.75 94.56L344.75 92.66C344.22 91.18 343.16 86.51 341.58 83.8C340 81.08 337.89 78.52 335.25 76.36C332.62 74.2 328.92 72.22 325.76 70.82C322.59 69.43 319.69 68.55 316.27 67.97C312.84 67.39 308.88 67.18 305.19 67.34C301.5 67.5 298.07 68.21 294.11 68.92C290.16 69.64 286.15 70.3 281.46 71.61C276.76 72.93 268.53 75.97 265.95 76.84Z" fill="#0097A8"/><path d="M276.08 92.5C278.29 91.79 285.31 89.52 289.37 88.23C293.43 86.94 296.75 85.75 300.44 84.75C304.14 83.74 307.83 82.69 311.52 82.22C315.21 81.74 319.17 81.56 322.59 81.9C326.02 82.24 329.19 83.09 332.09 84.27C334.99 85.46 337.89 87.3 340 89.02C342.11 90.73 343.96 93.63 344.75 94.56" fill="none" stroke="#fff" stroke-opacity=".85" stroke-width=".9"/><path d="M260.89 68.45L238.73 100.09L283.04 105.32" fill="none" stroke="#fff" stroke-opacity=".85" stroke-width=".9"/></g>
<g transform="translate(858.4 1.3) rotate(180 286.2 248.45)"><path d="M260.89 68.45L249.02 75.57L226.08 106.9L238.73 100.09ZM238.73 100.09L226.08 106.9L271.96 112.75L283.04 105.32Z" fill="#00505E"/><path d="M276.08 92.5C278.29 91.79 285.31 89.52 289.37 88.23C293.43 86.94 296.75 85.75 300.44 84.75C304.14 83.74 307.83 82.69 311.52 82.22C315.21 81.74 319.17 81.56 322.59 81.9C326.02 82.24 329.19 83.09 332.09 84.27C334.99 85.46 337.89 87.3 340 89.02C342.11 90.73 343.96 93.63 344.75 94.56L344.75 92.66C344.69 94.29 345.09 99.38 344.43 102.47C343.77 105.55 343.24 108.4 340.79 111.17C338.34 113.94 331.56 117.76 329.72 119.08L329.72 119.08C330.24 117.5 332.43 112.36 332.88 109.59C333.33 106.82 333.06 104.71 332.41 102.47C331.75 100.23 330.56 98.04 328.92 96.14C327.29 94.24 325.23 92.45 322.59 91.08C319.96 89.7 316.53 88.57 313.1 87.91C309.67 87.25 305.98 86.86 302.03 87.12C298.07 87.38 293.53 88.39 289.37 89.49C285.2 90.6 279.08 93.05 277.03 93.77Z" fill="#00505E"/><path d="M260.89 68.45L238.73 100.09L283.04 105.32L276.08 92.5L276.08 92.5C278.29 91.79 285.31 89.52 289.37 88.23C293.43 86.94 296.75 85.75 300.44 84.75C304.14 83.74 307.83 82.69 311.52 82.22C315.21 81.74 319.17 81.56 322.59 81.9C326.02 82.24 329.19 83.09 332.09 84.27C334.99 85.46 337.89 87.3 340 89.02C342.11 90.73 343.96 93.63 344.75 94.56L344.75 92.66C344.22 91.18 343.16 86.51 341.58 83.8C340 81.08 337.89 78.52 335.25 76.36C332.62 74.2 328.92 72.22 325.76 70.82C322.59 69.43 319.69 68.55 316.27 67.97C312.84 67.39 308.88 67.18 305.19 67.34C301.5 67.5 298.07 68.21 294.11 68.92C290.16 69.64 286.15 70.3 281.46 71.61C276.76 72.93 268.53 75.97 265.95 76.84Z" fill="#0097A8"/><path d="M276.08 92.5C278.29 91.79 285.31 89.52 289.37 88.23C293.43 86.94 296.75 85.75 300.44 84.75C304.14 83.74 307.83 82.69 311.52 82.22C315.21 81.74 319.17 81.56 322.59 81.9C326.02 82.24 329.19 83.09 332.09 84.27C334.99 85.46 337.89 87.3 340 89.02C342.11 90.73 343.96 93.63 344.75 94.56" fill="none" stroke="#fff" stroke-opacity=".85" stroke-width=".9"/><path d="M260.89 68.45L238.73 100.09L283.04 105.32" fill="none" stroke="#fff" stroke-opacity=".85" stroke-width=".9"/></g>
<!-- p40_cards -->
<defs><filter id="cs" x="-5%" y="-8%" width="110%" height="120%"><feGaussianBlur in="SourceAlpha" stdDeviation="1.6"/><feOffset dx="0" dy="1"/><feComponentTransfer><feFuncA type="linear" slope=".38"/></feComponentTransfer><feMerge><feMergeNode/><feMergeNode in="SourceGraphic"/></feMerge></filter></defs>
<g filter="url(#cs)"><rect x="1554.3" y="8.0" width="294.70000000000005" height="133.2" rx="5" fill="#fff"/></g>
<path d="M1582.0 8.0H1559.3a5 5 0 0 0 -5 5V136.2a5 5 0 0 0 5 5H1582.0Z" fill="#0097A8"/>
<path d="M1555.30 61.00L1540.15 73.50A2.20 2.20 0 0 0 1540.15 76.90L1555.30 89.40Z" fill="#0097A8"/>
<text x="1601.3" y="44.6" font-size="19.8" fill="#111" textLength="228.6" lengthAdjust="spacing">Evaluamos la integración</text>
<text x="1600.6" y="68.3" font-size="19.8" fill="#111" textLength="229.3" lengthAdjust="spacing">entre recursos humanos,</text>
<text x="1632.1" y="91.6" font-size="19.8" fill="#111" textLength="167" lengthAdjust="spacing">la tecnología y los</text>
<text x="1670.9" y="115.2" font-size="19.8" fill="#111" textLength="88.7" lengthAdjust="spacing">procesos.</text>
<g filter="url(#cs)"><rect x="1554.3" y="169.6" width="294.70000000000005" height="133" rx="5" fill="#fff"/></g>
<path d="M1582.0 169.6H1559.3a5 5 0 0 0 -5 5V297.6a5 5 0 0 0 5 5H1582.0Z" fill="#0097A8"/>
<path d="M1555.30 222.50L1540.15 235.00A2.20 2.20 0 0 0 1540.15 238.40L1555.30 250.90Z" fill="#0097A8"/>
<text x="1631.4" y="205.5" font-size="19.8" fill="#111" textLength="165.3" lengthAdjust="spacing">Determinamos las</text>
<text x="1601.3" y="229.2" font-size="19.8" fill="#111" textLength="225.6" lengthAdjust="spacing">brechas y cuantificamos</text>
<text x="1598.9" y="252.5" font-size="19.8" fill="#111" textLength="229.6" lengthAdjust="spacing">el nivel de madurez de la</text>
<text x="1652.3" y="275.9" font-size="19.8" fill="#111" textLength="122.4" lengthAdjust="spacing">organización.</text>
<g filter="url(#cs)"><rect x="1554.3" y="331.2" width="294.70000000000005" height="133.4" rx="5" fill="#fff"/></g>
<path d="M1582.0 331.2H1559.3a5 5 0 0 0 -5 5V459.6a5 5 0 0 0 5 5H1582.0Z" fill="#0097A8"/>
<path d="M1555.30 384.30L1540.15 396.80A2.20 2.20 0 0 0 1540.15 400.20L1555.30 412.70Z" fill="#0097A8"/>
<text x="1597.3" y="366.0" font-size="19.8" fill="#111" textLength="234.3" lengthAdjust="spacing">Valuamos las alternativas</text>
<text x="1607.1" y="389.8" font-size="19.8" fill="#111" textLength="214" lengthAdjust="spacing">posibles de cambios en</text>
<text x="1625.6" y="413.1" font-size="19.8" fill="#111" textLength="175.8" lengthAdjust="spacing">tiempo, inversión y</text>
<text x="1617.5" y="436.4" font-size="19.8" fill="#111" textLength="192" lengthAdjust="spacing">tecnología requerida.</text>
</svg>
</body></html>
